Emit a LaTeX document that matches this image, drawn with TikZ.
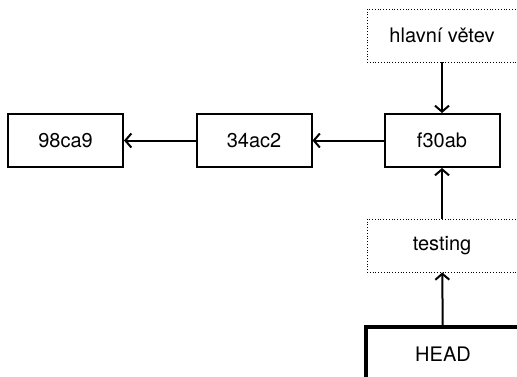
\documentclass[tikz,border=0pt]{standalone}
\usepackage{fontspec}
\setmainfont{TeX Gyre Heros}
\usetikzlibrary{arrows.meta}
\begin{document}
\begin{tikzpicture}[x=0.5pt,y=-0.5pt,>={Straight Barb[length=3pt,width=7pt]},font=\fontsize{10}{12}\selectfont,
	commit/.style={draw,line width=1pt,minimum width=57.5pt,minimum height=26.5pt,inner sep=0pt},
	branch/.style={draw,densely dotted,line width=0.4pt,minimum width=75pt,minimum height=26.5pt,inner sep=0pt},
	headbox/.style={draw,line width=2pt,minimum width=77pt,minimum height=27pt,inner sep=0pt}]
			\useasboundingbox (0,0) rectangle (517,376);
			\node[commit] (c98) at (65.5,140.5) {98ca9};
			\node[commit] (c34) at (254,140.5) {34ac2};
			\node[commit] (f30) at (442,140.5) {f30ab};
			\node[branch] (master) at (442,35.5) {hlavní větev};
			\node[branch] (testing) at (442,245.5) {testing};
			\node[headbox] (head) at (443,354) {HEAD};
			\draw[->,line width=1pt] (f30)--(c34);
			\draw[->,line width=1pt] (c34)--(c98);
			\draw[->,line width=1pt] (master)--(f30);
			\draw[->,line width=1pt] (testing)--(f30);
			\draw[->,line width=1pt] (head)--(testing);
		\end{tikzpicture}
\end{document}
